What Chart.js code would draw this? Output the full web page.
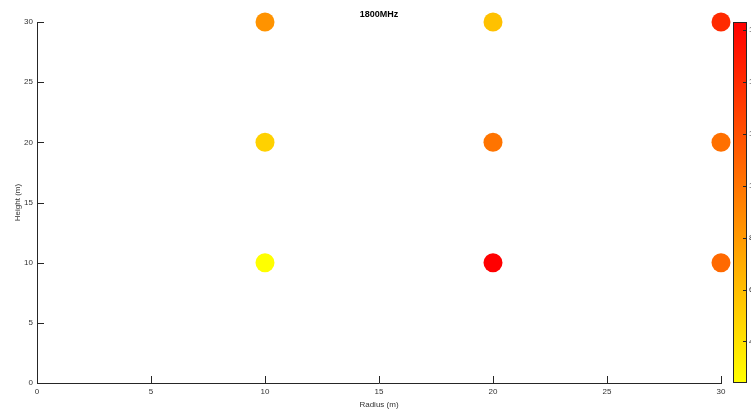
<!DOCTYPE html>
<html>
<head>
<meta charset="utf-8">
<script src="https://cdn.jsdelivr.net/npm/chart.js@4"></script>
<style>
  html, body { margin: 0; padding: 0; background: #fff; }
  #wrap { width: 751px; height: 410px; }
</style>
</head>
<body>
<div id="wrap"><canvas id="scatterChart"></canvas></div>
<script>
// data
const radius = [10, 10, 10, 20, 20, 20, 30, 30, 30];
const height = [10, 20, 30, 10, 20, 30, 10, 20, 30];
const values = [2.4, 4.9, 8.3, 16.3, 10.0, 5.8, 10.6, 10.2, 14.0];
const axisTicks = [0, 5, 10, 15, 20, 25, 30];
const colorbarTicks = [4, 6, 8, 10, 12, 14, 16];
const titleText = '1800MHz';

const cmin = Math.min(...values);
const cmax = Math.max(...values);

// yellow (low) -> red (high)
function valueColor(v) {
    const t = Math.max(0, Math.min(1, (v - cmin) / (cmax - cmin)));
    return 'rgb(255,' + Math.round(255 * (1 - t)) + ',0)';
}

const FONT = '"Liberation Sans", Arial, Helvetica, sans-serif';
const INK = '#262626';
const TEXT = '#333333';

// no extra room for half-labels, layout is fixed
function fixSize(prop, size) {
    return s => {
        s[prop] = size;
        s.paddingTop = 0; s.paddingBottom = 0;
        s.paddingLeft = 0; s.paddingRight = 0;
    };
}

// title over the plot box, inward ticks, colorbar
const matlabLook = {
    id: 'matlabLook',
    afterDraw(chart) {
        const ctx = chart.ctx;
        const xs = chart.scales.x, ys = chart.scales.y, cs = chart.scales.c;
        const area = chart.chartArea;
        ctx.save();

        ctx.fillStyle = '#000';
        ctx.font = 'bold 9px ' + FONT;
        ctx.textAlign = 'center';
        ctx.textBaseline = 'middle';
        ctx.fillText(titleText, (area.left + area.right) / 2, 15);

        ctx.strokeStyle = INK;
        ctx.lineWidth = 1;
        ctx.beginPath();
        xs.ticks.forEach(t => {
            const px = Math.round(xs.getPixelForValue(t.value)) + 0.5;
            ctx.moveTo(px, area.bottom);
            ctx.lineTo(px, area.bottom - 7);
        });
        ys.ticks.forEach(t => {
            const py = Math.round(ys.getPixelForValue(t.value)) + 0.5;
            ctx.moveTo(area.left, py);
            ctx.lineTo(area.left + 7, py);
        });
        ctx.stroke();

        // colorbar
        const x0 = 733, w = 13;
        const top = cs.getPixelForValue(cmax), bot = cs.getPixelForValue(cmin);
        const grad = ctx.createLinearGradient(0, bot, 0, top);
        grad.addColorStop(0, valueColor(cmin));
        grad.addColorStop(0.5, valueColor((cmin + cmax) / 2));
        grad.addColorStop(1, valueColor(cmax));
        ctx.fillStyle = grad;
        ctx.fillRect(x0, top, w, bot - top);
        ctx.strokeStyle = INK;
        ctx.strokeRect(x0 + 0.5, top + 0.5, w, bot - top - 1);
        ctx.beginPath();
        cs.ticks.forEach(t => {
            const py = Math.round(cs.getPixelForValue(t.value)) + 0.5;
            ctx.moveTo(x0 + w, py);
            ctx.lineTo(x0 + w - 3, py);
        });
        ctx.stroke();
        ctx.restore();
    }
};

const ctxScatter = document.getElementById('scatterChart').getContext('2d');
const scatterChart = new Chart(ctxScatter, {
    type: 'scatter',
    data: {
        datasets: [{
            label: titleText,
            data: radius.map((r, i) => ({ x: r, y: height[i], v: values[i] })),
            backgroundColor: values.map(valueColor),
            borderWidth: 0,
            pointRadius: 9.5,
            pointHoverRadius: 9.5,
            clip: false
        }]
    },
    options: {
        responsive: true,
        maintainAspectRatio: false,
        animation: false,
        layout: { padding: { top: 22, left: 0, right: 0, bottom: 0 }, autoPadding: false },
        plugins: {
            legend: { display: false },
            tooltip: { enabled: false },
            title: { display: false }
        },
        scales: {
            x: {
                type: 'linear',
                min: 0,
                max: 30,
                afterBuildTicks: s => { s.ticks = axisTicks.map(v => ({ value: v })); },
                afterFit: fixSize('height', 27),
                grid: { display: false, drawTicks: false },
                border: { display: true, color: INK, width: 1 },
                ticks: { color: TEXT, font: { family: FONT, size: 8 }, padding: 4, maxRotation: 0 },
                title: {
                    display: true,
                    text: 'Radius (m)',
                    color: TEXT,
                    font: { family: FONT, size: 8 },
                    padding: { top: 0, bottom: 0 }
                }
            },
            y: {
                type: 'linear',
                min: 0,
                max: 30,
                afterBuildTicks: s => { s.ticks = axisTicks.map(v => ({ value: v })); },
                afterFit: fixSize('width', 37),
                grid: { display: false, drawTicks: false },
                border: { display: true, color: INK, width: 1 },
                ticks: { color: TEXT, font: { family: FONT, size: 8 }, padding: 4 },
                title: {
                    display: true,
                    text: 'Height (m)',
                    color: TEXT,
                    font: { family: FONT, size: 8 },
                    padding: { top: 13, bottom: 0 }
                }
            },
            c: {
                type: 'linear',
                position: 'right',
                min: cmin,
                max: cmax,
                afterBuildTicks: s => { s.ticks = colorbarTicks.map(v => ({ value: v })); },
                afterFit: fixSize('width', 30),
                grid: { display: false, drawTicks: false },
                border: { display: false },
                ticks: { color: TEXT, font: { family: FONT, size: 8 }, padding: 28 }
            }
        }
    },
    plugins: [matlabLook]
});
</script>
</body>
</html>
